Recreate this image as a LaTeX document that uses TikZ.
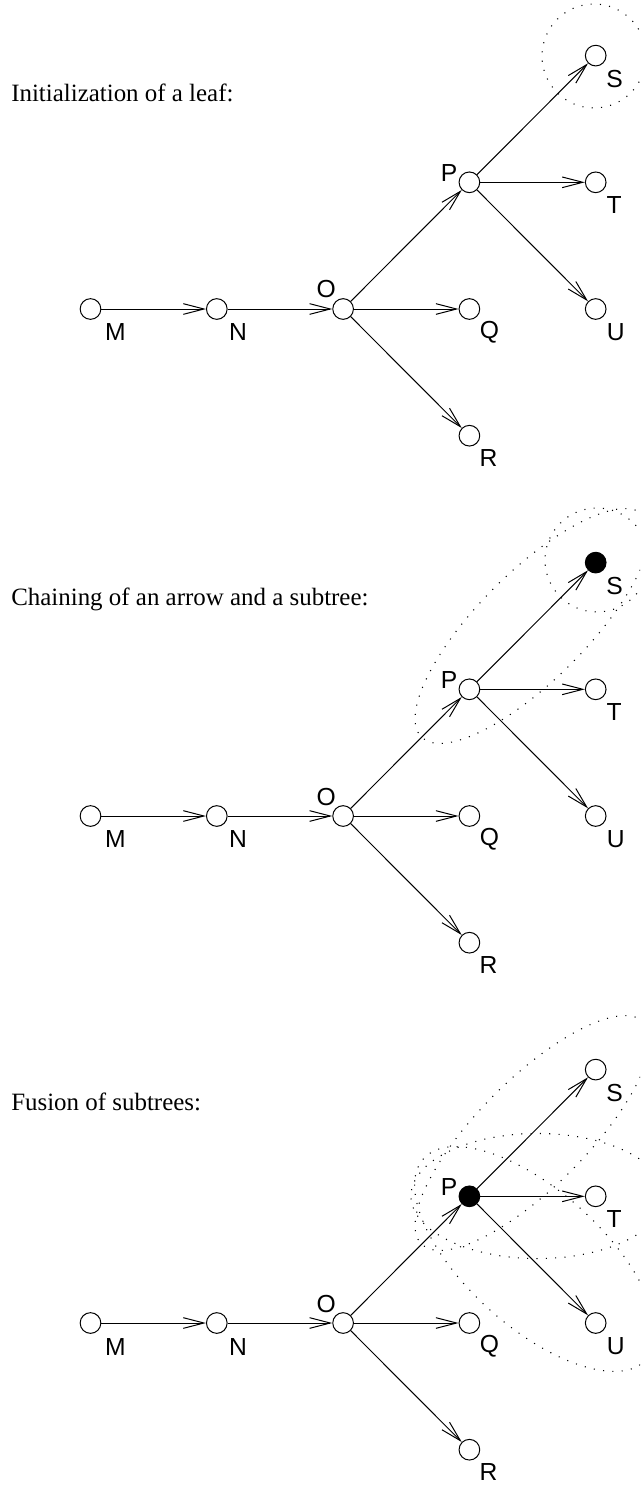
\documentclass[tikz,border=0pt]{standalone}
\usepackage{fontspec}
\setmainfont{Liberation Serif}
\newfontfamily\lblfont{Liberation Sans}
\usetikzlibrary{arrows.meta}

\tikzset{
  vert/.style={circle, draw, line width=0.75pt, minimum size=15.5pt, inner sep=0pt, fill=white},
  filled/.style={fill=black},
  sstyle/.style={},
  pstyle/.style={},
  lbl/.style={font=\lblfont\fontsize{18.5pt}{22pt}\selectfont, inner sep=0pt},
  arr/.style={-{Straight Barb[length=15.5pt,width=8pt]}, line width=0.75pt},
  blob/.style={dash pattern=on 0.8pt off 6.2pt, line width=0.8pt},
  ttl/.style={font=\fontsize{18.7pt}{22pt}\selectfont, anchor=base west, inner sep=0pt},
}

\newcommand\treepanel{%
  \node[vert] (M) at (90.5,309) {};
  \node[vert] (N) at (216.8,309) {};
  \node[vert] (O) at (343.1,309) {};
  \node[vert,pstyle] (P) at (469.4,182.3) {};
  \node[vert] (Q) at (469.4,309) {};
  \node[vert] (R) at (469.4,435.7) {};
  \node[vert,sstyle] (S) at (595.7,55.6) {};
  \node[vert] (T) at (595.7,182.3) {};
  \node[vert] (U) at (595.7,309) {};
  \draw[arr] (M) -- (N);
  \draw[arr] (N) -- (O);
  \draw[arr] (O) -- (P);
  \draw[arr] (O) -- (Q);
  \draw[arr] (O) -- (R);
  \draw[arr] (P) -- (S);
  \draw[arr] (P) -- (T);
  \draw[arr] (P) -- (U);
  \node[lbl] (lM) at ([shift={(24.8,23.5)}]M.center) {M};
  \node[lbl] (lN) at ([shift={(21.3,23.5)}]N.center) {N};
  \node[lbl] (lO) at ([shift={(-17,-19.5)}]O.center) {O};
  \node[lbl] (lP) at ([shift={(-20.3,-9.5)}]P.center) {P};
  \node[lbl] (lQ) at ([shift={(20,23.5)}]Q.center) {Q};
  \node[lbl] (lR) at ([shift={(19.2,22.7)}]R.center) {R};
  \node[lbl] (lS) at ([shift={(19,23.5)}]S.center) {S};
  \node[lbl] (lT) at ([shift={(18.5,22.5)}]T.center) {T};
  \node[lbl] (lU) at ([shift={(20,23.5)}]U.center) {U};
}

\begin{document}
\begin{tikzpicture}[x=0.75pt, y=-0.75pt]
  \useasboundingbox (0,0) rectangle (640,1486);
  \clip (0,0) rectangle (640,1486);

  % Panel 1
  \begin{scope}[name prefix=a-]
    \node[ttl] (title) at (11,101) {Initialization of a leaf:};
    \draw[blob] (594,56) circle[radius=39pt];
    \treepanel
  \end{scope}

  % Panel 2
  \begin{scope}[name prefix=b-, shift={(0,507)}, sstyle/.style=filled]
    \node[ttl] (title) at (11,98) {Chaining of an arrow and a subtree:};
    \draw[blob] (597,53) circle[radius=39pt];
    \draw[blob, rotate around={45:(532.5,119)}] (532.5,119) ellipse[x radius=117.75pt, y radius=40.5pt];
    \treepanel
  \end{scope}

  % Panel 3
  \begin{scope}[name prefix=c-, shift={(0,1014)}, pstyle/.style=filled]
    \node[ttl] (title) at (11,96) {Fusion of subtrees:};
    \draw[blob, rotate around={45:(532.5,119)}] (532.5,119) ellipse[x radius=117.75pt, y radius=40.5pt];
    \draw[blob] (537.5,182) ellipse[x radius=94.9pt, y radius=46.9pt];
    \draw[blob, rotate around={-42:(535,245)}] (535,245) ellipse[x radius=112.5pt, y radius=51pt];
    \treepanel
  \end{scope}
\end{tikzpicture}
\end{document}
